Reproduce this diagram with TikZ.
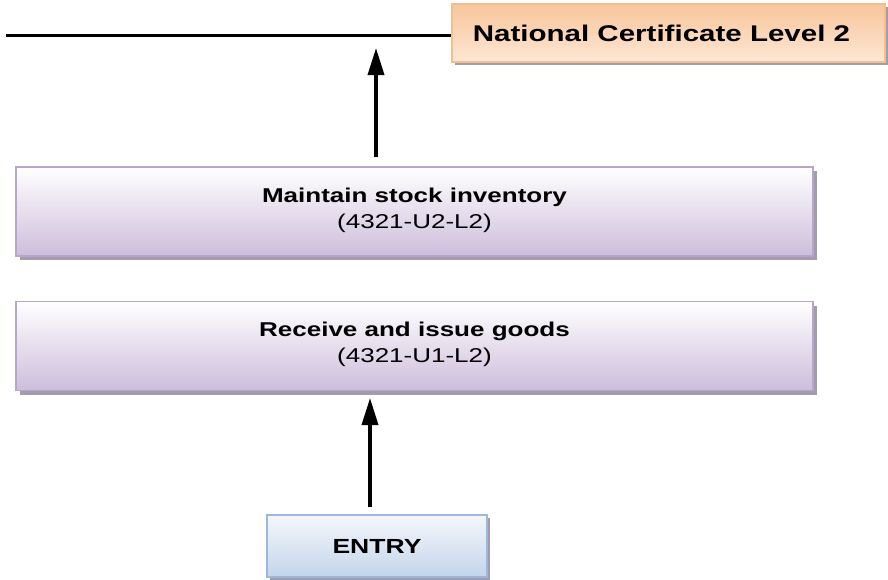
\documentclass[tikz,border=0pt]{standalone}
\usepackage{fontspec}
\setmainfont{Liberation Sans}
\newfontfamily\widesans[FakeStretch=1.3]{Liberation Sans}
\usetikzlibrary{arrows.meta,shadows}

\definecolor{orangeTop}{HTML}{F8C59A}
\definecolor{orangeBot}{HTML}{FDE7D6}
\definecolor{orangeEdge}{HTML}{F5BE8E}
\definecolor{lilacBot}{HTML}{CDBDDB}
\definecolor{lilacEdge}{HTML}{B7A5CD}
\definecolor{blueTop}{HTML}{F4F7FB}
\definecolor{blueBot}{HTML}{C3D5EB}
\definecolor{blueEdge}{HTML}{9BB9DF}
\definecolor{shadowGrey}{HTML}{A39DAB}

\newcommand{\lowstrut}{\rule[-7pt]{0pt}{0pt}}

\tikzset{
  unitbox/.style={draw=lilacEdge, line width=1.2pt, top color=white, bottom color=lilacBot,
    minimum width=797pt, minimum height=89pt, inner sep=0pt, align=center,
    font=\widesans\fontsize{20}{26}\selectfont,
    drop shadow={shadow xshift=4pt, shadow yshift=-4pt, fill=shadowGrey, opacity=1}},
  certbox/.style={draw=orangeEdge, line width=1.2pt, top color=orangeTop, bottom color=orangeBot,
    minimum width=433pt, minimum height=58pt, inner sep=0pt,
    font=\widesans\bfseries\fontsize{22.7}{26}\selectfont,
    drop shadow={shadow xshift=3pt, shadow yshift=-3pt, fill=shadowGrey, opacity=1}},
  entrybox/.style={draw=blueEdge, line width=1.2pt, top color=blueTop, bottom color=blueBot,
    minimum width=220pt, minimum height=62pt, inner sep=0pt,
    font=\widesans\bfseries\fontsize{20.4}{26}\selectfont,
    drop shadow={shadow xshift=3pt, shadow yshift=-3pt, fill=shadowGrey, opacity=1}},
  uparrow/.style={line width=3.5pt, -{Triangle[length=27pt,width=16pt]}},
}

\begin{document}
\begin{tikzpicture}[x=1pt, y=-1pt]
  \useasboundingbox (0,0) rectangle (888,579);

  % qualification at the top
  \node[certbox] (cert) at (668.5,33) {\kern-14pt National Certificate Level 2};
  \coordinate (railstart) at (6,35);
  \draw[line width=3pt] (railstart) -- (railstart -| cert.west);

  % unit standards
  \node[unitbox] (stock) at (414.5,211.5)
    {{\bfseries Maintain stock inventory}\\(4321-U2-L2)\lowstrut};
  \node[unitbox] (goods) at (414.5,346)
    {{\bfseries Receive and issue goods}\\(4321-U1-L2)\lowstrut};

  % entry point
  \node[entrybox] (entry) at (377,546) {ENTRY};

  % progression arrows
  \coordinate (tipA) at (376,48);
  \coordinate (tipB) at (370,398);
  \draw[uparrow] (tipA |- stock.north) ++(0,-9) -- (tipA);
  \draw[uparrow] (tipB |- entry.north) ++(0,-7) -- (tipB);
\end{tikzpicture}
\end{document}
